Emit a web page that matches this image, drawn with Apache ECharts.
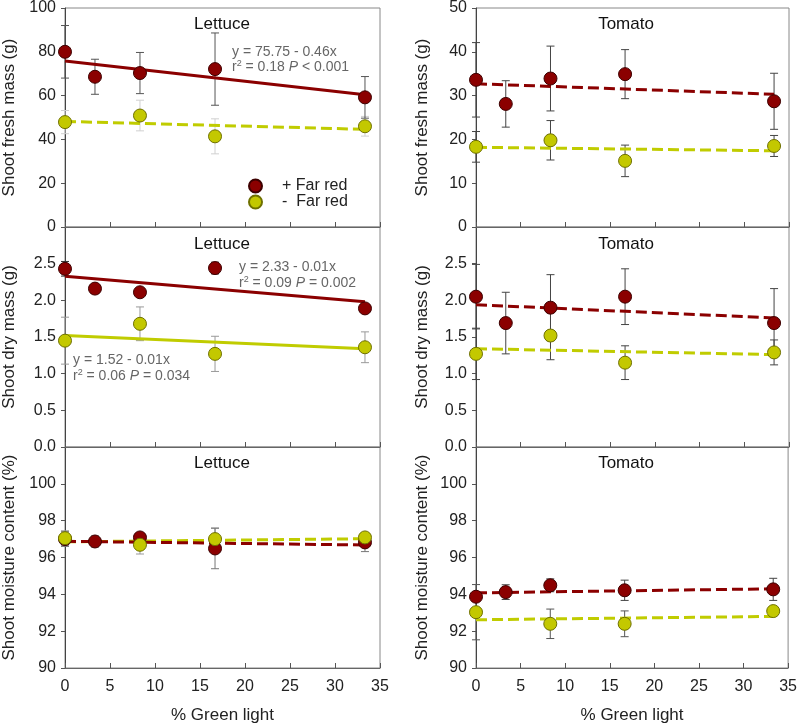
<!DOCTYPE html>
<html><head><meta charset="utf-8">
<script src="https://cdn.jsdelivr.net/npm/echarts@6/dist/echarts.min.js"></script>
<style>html,body{margin:0;padding:0;background:#fff}#c{width:800px;height:725px}</style>
</head><body><div id="c"></div>
<script>
// ---------- data ----------
const xRed = [0, 3.33, 8.33, 16.67, 33.33];
const xGreen = [0, 8.33, 16.67, 33.33];
const fitX = [0, 33.33];
const seriesNames = ['+ Far red', '-  Far red'];
const panelTitles = ['Lettuce', 'Tomato'];
const yTitles = ['Shoot fresh mass (g)', 'Shoot dry mass (g)', 'Shoot moisture content (%)'];
const xTitle = '% Green light';

// Lettuce fresh mass
const lfRed = [80.0, 68.6, 70.3, 72.1, 59.2];
const lfRedErr = [12, 8, 9.4, 16.5, 9.5];
const lfGreen = [47.9, 50.9, 41.4, 46.0];
const lfGreenErr = [5.3, 7, 8, 4.5];
const lfRedFit = [75.75, 60.42];
const lfGreenFit = [48.2, 44.6];
// Tomato fresh mass
const tfRed = [33.6, 28.1, 33.9, 34.9, 28.7];
const tfRedErr = [8.5, 5.3, 7.4, 5.6, 6.4];
const tfGreen = [18.3, 19.8, 15.1, 18.5];
const tfGreenErr = [3.5, 4.5, 3.6, 2.4];
const tfRedFit = [32.7, 30.3];
const tfGreenFit = [18.2, 17.4];
// Lettuce dry mass
const ldRed = [2.43, 2.16, 2.11, 2.44, 1.89];
const ldRedErr = [0.1, 0.03, 0.03, 0.08, 0.05];
const ldGreen = [1.45, 1.68, 1.27, 1.36];
const ldGreenErr = [0.32, 0.23, 0.24, 0.21];
const ldRedFit = [2.33, 1.98];
const ldGreenFit = [1.52, 1.34];
// Tomato dry mass
const tdRed = [2.05, 1.69, 1.90, 2.05, 1.69];
const tdRedErr = [0.44, 0.42, 0.45, 0.38, 0.47];
const tdGreen = [1.27, 1.52, 1.15, 1.29];
const tdGreenErr = [0.35, 0.33, 0.23, 0.17];
const tdRedFit = [1.94, 1.76];
const tdGreenFit = [1.34, 1.26];
// Lettuce moisture
const lmRed = [97.0, 96.87, 97.09, 96.49, 96.82];
const lmRedErr = [0.4, 0.3, 0.2, 1.1, 0.5];
const lmGreen = [97.05, 96.69, 97.0, 97.09];
const lmGreenErr = [0.4, 0.5, 0.6, 0.2];
const lmRedFit = [96.88, 96.68];
const lmGreenFit = [96.85, 97.02];
// Tomato moisture
const tmRed = [93.87, 94.12, 94.49, 94.22, 94.27];
const tmRedErr = [0.2, 0.4, 0.35, 0.55, 0.6];
const tmGreen = [93.03, 92.4, 92.4, 93.09];
const tmGreenErr = [1.5, 0.8, 0.7, 0.25];
const tmRedFit = [94.08, 94.30];
const tmGreenFit = [92.62, 92.80];

// Axis ranges
const yMin = [0, 0, 90];
const yMaxL = [100, 3, 102];
const yMaxR = [50, 3, 102];
const yIntL = [20, 0.5, 2];
const yIntR = [10, 0.5, 2];

// ---------- styles / layout ----------
const RED = '#8b0000', RED_B = '#3d0000';
const GRN = '#c3c800', GRN_B = '#6e7000';
const GRN_LINE = '#c0cc00';
const FONT = '"Liberation Sans", Arial, sans-serif';
const colLeft = [65, 476], colWidth = [315, 313];
const rowTop = [7, 227, 447], rowH = [220, 220, 221];

const panels = [
  {r:0,c:0, red:lfRed, redErr:lfRedErr, green:lfGreen, greenErr:lfGreenErr, redFit:lfRedFit, greenFit:lfGreenFit, redSolid:true, greenSolid:false, errR:'#555', errG:'#d0d0d0'},
  {r:0,c:1, red:tfRed, redErr:tfRedErr, green:tfGreen, greenErr:tfGreenErr, redFit:tfRedFit, greenFit:tfGreenFit, redSolid:false, greenSolid:false, errR:'#444', errG:'#444'},
  {r:1,c:0, red:ldRed, redErr:ldRedErr, green:ldGreen, greenErr:ldGreenErr, redFit:ldRedFit, greenFit:ldGreenFit, redSolid:true, greenSolid:true, errR:'#333', errG:'#999'},
  {r:1,c:1, red:tdRed, redErr:tdRedErr, green:tdGreen, greenErr:tdGreenErr, redFit:tdRedFit, greenFit:tdGreenFit, redSolid:false, greenSolid:false, errR:'#444', errG:'#444'},
  {r:2,c:0, red:lmRed, redErr:lmRedErr, green:lmGreen, greenErr:lmGreenErr, redFit:lmRedFit, greenFit:lmGreenFit, redSolid:false, greenSolid:false, errR:'#777', errG:'#999'},
  {r:2,c:1, red:tmRed, redErr:tmRedErr, green:tmGreen, greenErr:tmGreenErr, redFit:tmRedFit, greenFit:tmGreenFit, redSolid:false, greenSolid:false, errR:'#444', errG:'#555'}
];

const grids = [], xAxes = [], yAxes = [], series = [];
function errRender(color){
  return function(params, api){
    const x = api.value(0), lo = api.value(1), hi = api.value(2);
    const a = api.coord([x, lo]), b = api.coord([x, hi]);
    const w = 4;
    const st = {stroke: color, lineWidth: 1};
    return {type:'group', children:[
      {type:'line', shape:{x1:a[0],y1:a[1],x2:b[0],y2:b[1]}, style:st},
      {type:'line', shape:{x1:a[0]-w,y1:a[1],x2:a[0]+w,y2:a[1]}, style:st},
      {type:'line', shape:{x1:b[0]-w,y1:b[1],x2:b[0]+w,y2:b[1]}, style:st}
    ]};
  };
}
panels.forEach((p, i) => {
  grids.push({left: colLeft[p.c], width: colWidth[p.c], top: rowTop[p.r], height: rowH[p.r],
    show: true, borderColor: '#888', borderWidth: 1, backgroundColor: 'transparent'});
  const bottom = p.r === 2;
  xAxes.push({type:'value', gridIndex:i, min:0, max:35, interval:5,
    axisLine:{show:true, onZero:false, lineStyle:{color:'#666', width:1}},
    axisTick:{show:true, inside:true, length:5, lineStyle:{color:'#555'}},
    axisLabel:{show:bottom, fontSize:16, color:'#222', fontFamily:FONT, margin:11},
    splitLine:{show:false},
    name: bottom ? xTitle : '', nameLocation:'middle', nameGap:39,
    nameTextStyle:{fontSize:17, color:'#222', fontFamily:FONT}});
  const ymax = p.c === 0 ? yMaxL[p.r] : yMaxR[p.r];
  const yint = p.c === 0 ? yIntL[p.r] : yIntR[p.r];
  yAxes.push({type:'value', gridIndex:i, min:yMin[p.r], max:ymax, interval:yint,
    axisLine:{show:true, onZero:false, lineStyle:{color:'#444', width:1}},
    axisTick:{show:true, length:4, lineStyle:{color:'#555'}},
    axisLabel:{fontSize:16, color:'#222', fontFamily:FONT, margin:9, showMaxLabel: p.r === 0,
      formatter: v => p.r === 1 ? v.toFixed(1) : String(Math.round(v))},
    splitLine:{show:false},
    name: yTitles[p.r], nameLocation:'middle', nameGap: p.c === 0 ? 47 : 45,
    nameTextStyle:{fontSize:17, color:'#222', fontFamily:FONT}});
  // error bars
  series.push({type:'custom', xAxisIndex:i, yAxisIndex:i, z:2, silent:true,
    renderItem: errRender(p.errG),
    data: xGreen.map((x,k)=>[x, p.green[k]-p.greenErr[k], p.green[k]+p.greenErr[k]])});
  series.push({type:'custom', xAxisIndex:i, yAxisIndex:i, z:2, silent:true,
    renderItem: errRender(p.errR),
    data: xRed.map((x,k)=>[x, p.red[k]-p.redErr[k], p.red[k]+p.redErr[k]])});
  // fit lines
  series.push({type:'line', xAxisIndex:i, yAxisIndex:i, z:3, symbol:'none', silent:true,
    lineStyle:{color:GRN_LINE, width:3, type: p.greenSolid ? 'solid' : [11,5]},
    data: fitX.map((x,k)=>[x, p.greenFit[k]])});
  series.push({type:'line', xAxisIndex:i, yAxisIndex:i, z:3, symbol:'none', silent:true,
    lineStyle:{color:RED, width:3, type: p.redSolid ? 'solid' : [11,5]},
    data: fitX.map((x,k)=>[x, p.redFit[k]])});
  // points
  series.push({type:'scatter', name:seriesNames[0], xAxisIndex:i, yAxisIndex:i, z:5,
    symbol:'circle', symbolSize:13, itemStyle:{color:RED, borderColor:RED_B, borderWidth:1, opacity:1},
    data: xRed.map((x,k)=>[x, p.red[k]])});
  series.push({type:'scatter', name:seriesNames[1], xAxisIndex:i, yAxisIndex:i, z:6,
    symbol:'circle', symbolSize:13, itemStyle:{color:GRN, borderColor:GRN_B, borderWidth:1, opacity:1},
    data: xGreen.map((x,k)=>[x, p.green[k]])});
});

const annRich = {s:{fontSize:9, verticalAlign:'top', fill:'#666', padding:[0,0,6,0]}, i:{fontStyle:'italic', fill:'#666', fontSize:14}};
function ann(x, y, t){
  return {type:'text', x:x, y:y, z:100, style:{text:t, fill:'#666', font:'14px ' + FONT, verticalAlign:'middle', rich:annRich}};
}
const titleEls = [];
[24, 244, 463].forEach(y => {
  titleEls.push({type:'text', x:222, y:y, z:100, style:{text:panelTitles[0], fill:'#111', font:'17px ' + FONT, align:'center', verticalAlign:'middle'}});
  titleEls.push({type:'text', x:626, y:y, z:100, style:{text:panelTitles[1], fill:'#111', font:'17px ' + FONT, align:'center', verticalAlign:'middle'}});
});

const option = {
  animation:false,
  backgroundColor:'#fff',
  textStyle:{fontFamily:FONT},
  grid: grids, xAxis: xAxes, yAxis: yAxes, series: series,
  legend:{data:seriesNames, left:243, top:173, orient:'vertical', icon:'circle', itemWidth:13, itemHeight:13,
    itemGap:0, selectedMode:false, textStyle:{fontSize:16, color:'#222', fontFamily:FONT, padding:[0,0,0,15]}},
  graphic: titleEls.concat([
    ann(232, 52, 'y = 75.75 - 0.46x'),
    ann(232, 67, 'r{s|2} = 0.18 {i|P} < 0.001'),
    ann(239, 267, 'y = 2.33 - 0.01x'),
    ann(239, 283, 'r{s|2} = 0.09 {i|P} = 0.002'),
    ann(73, 360, 'y = 1.52 - 0.01x'),
    ann(73, 376, 'r{s|2} = 0.06 {i|P} = 0.034')
  ])
};
const chart = echarts.init(document.getElementById('c'), null, {renderer:'canvas'});
chart.setOption(option);
</script></body></html>
